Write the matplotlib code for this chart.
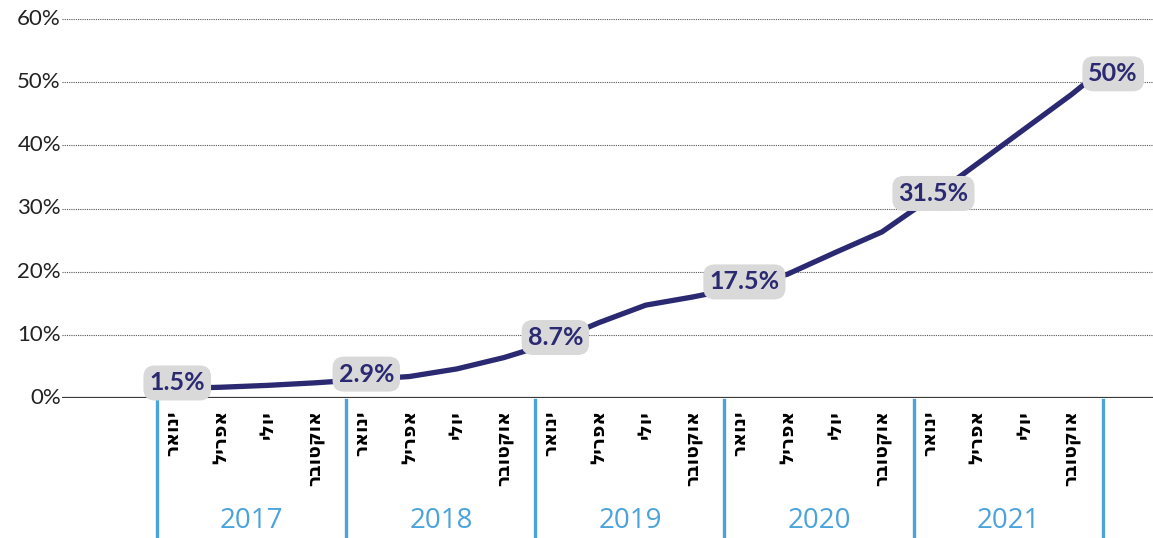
import matplotlib
matplotlib.use("Agg")
import matplotlib.pyplot as plt

# share of the index, quarterly, Jan 2017 .. Nov 2021
dates = ["2017-01", "2017-04", "2017-07", "2017-10",
         "2018-01", "2018-04", "2018-07", "2018-10",
         "2019-01", "2019-04", "2019-07", "2019-10",
         "2020-01", "2020-04", "2020-07", "2020-10",
         "2021-01", "2021-04", "2021-07", "2021-10",
         "2021-11"]
values = [1.5, 1.7, 2.0, 2.4,
          2.9, 3.4, 4.6, 6.4,
          8.7, 11.9, 14.7, 16.0,
          17.5, 19.6, 23.0, 26.3,
          31.5, 37.0, 42.5, 48.0,
          50.0]

# which points get a value box
labeled = ["2017-01", "2018-01", "2019-01", "2020-01", "2021-01", "2021-11"]
label_texts = ["1.5%", "2.9%", "8.7%", "17.5%", "31.5%", "50%"]

years = [2017, 2018, 2019, 2020, 2021]
month_names = ["ינואר", "אפריל", "יולי", "אוקטובר"]
month_offsets = [0, 3, 6, 9]

y_ticks = [0, 10, 20, 30, 40, 50, 60]

NAVY = "#2a2971"
BLUE = "#4ba3dc"
BOX = "#d9d9d9"


def month_index(d):
    y, m = d.split("-")
    return (int(y) - 2017) * 12 + int(m) - 1


def rtl(s):
    # matplotlib has no bidi support, so feed Hebrew in visual order
    return s[::-1]


x = [month_index(d) for d in dates]

W, H = 1153, 538
fig = plt.figure(figsize=(W / 100, H / 100), dpi=100)
left, bottom, top = 62, 140, 519
ax = fig.add_axes([left / W, bottom / H, (W - left) / W, (top - bottom) / H])
ax.set_xlim(-7.05, 62.2)
ax.set_ylim(0, 60)

for s in ax.spines.values():
    s.set_visible(False)
ax.set_xticks([])
ax.set_yticks([])

# dotted grid + solid baseline
for t in y_ticks[1:]:
    ax.axhline(t, color="#555555", lw=0.8, ls=(0, (1, 1)), zorder=1)
ax.axhline(0, color="#3a3a3a", lw=1.6, zorder=2)

for t in y_ticks:
    ax.text(-0.001, t, f"{t}%", transform=ax.get_yaxis_transform(),
            ha="right", va="center", fontsize=16, family="Lato",
            fontweight="normal", color="#222222")

ax.plot(x, values, color=NAVY, lw=3.8, solid_capstyle="round",
        solid_joinstyle="round", zorder=3)

# value boxes
for d, txt in zip(labeled, label_texts):
    i = dates.index(d)
    dx, dy = (19, 6) if d == labeled[-1] else (3, 4)
    ax.annotate(txt, (x[i], values[i]), xytext=(dx, dy),
                textcoords="offset points", ha="center", va="center",
                fontsize=18, family="Lato", fontweight="bold", color=NAVY,
                bbox=dict(boxstyle="round,pad=0.24,rounding_size=0.45",
                          fc=BOX, ec="none"),
                zorder=5)

# month / year labels under the axis
trans = ax.get_xaxis_transform()
ph = top - bottom
for k, yr in enumerate(years):
    base = k * 12
    for off, name in zip(month_offsets, month_names):
        ax.text(base + off, -12 / ph, rtl(name), transform=trans,
                rotation=90, ha="center", va="top", fontsize=13.5,
                family=["DejaVu Sans"],
                fontweight="bold", color="black")
    ax.text(base + 5, -123 / ph, str(yr), transform=trans,
            ha="center", va="center", fontsize=20, family="Open Sans",
            color=BLUE)

for k in range(len(years) + 1):
    ax.plot([k * 12 - 1] * 2, [-2 / ph, -140 / ph], transform=trans,
            color=BLUE, lw=2.4, clip_on=False, zorder=2)

fig.savefig("out.png", dpi=100)
